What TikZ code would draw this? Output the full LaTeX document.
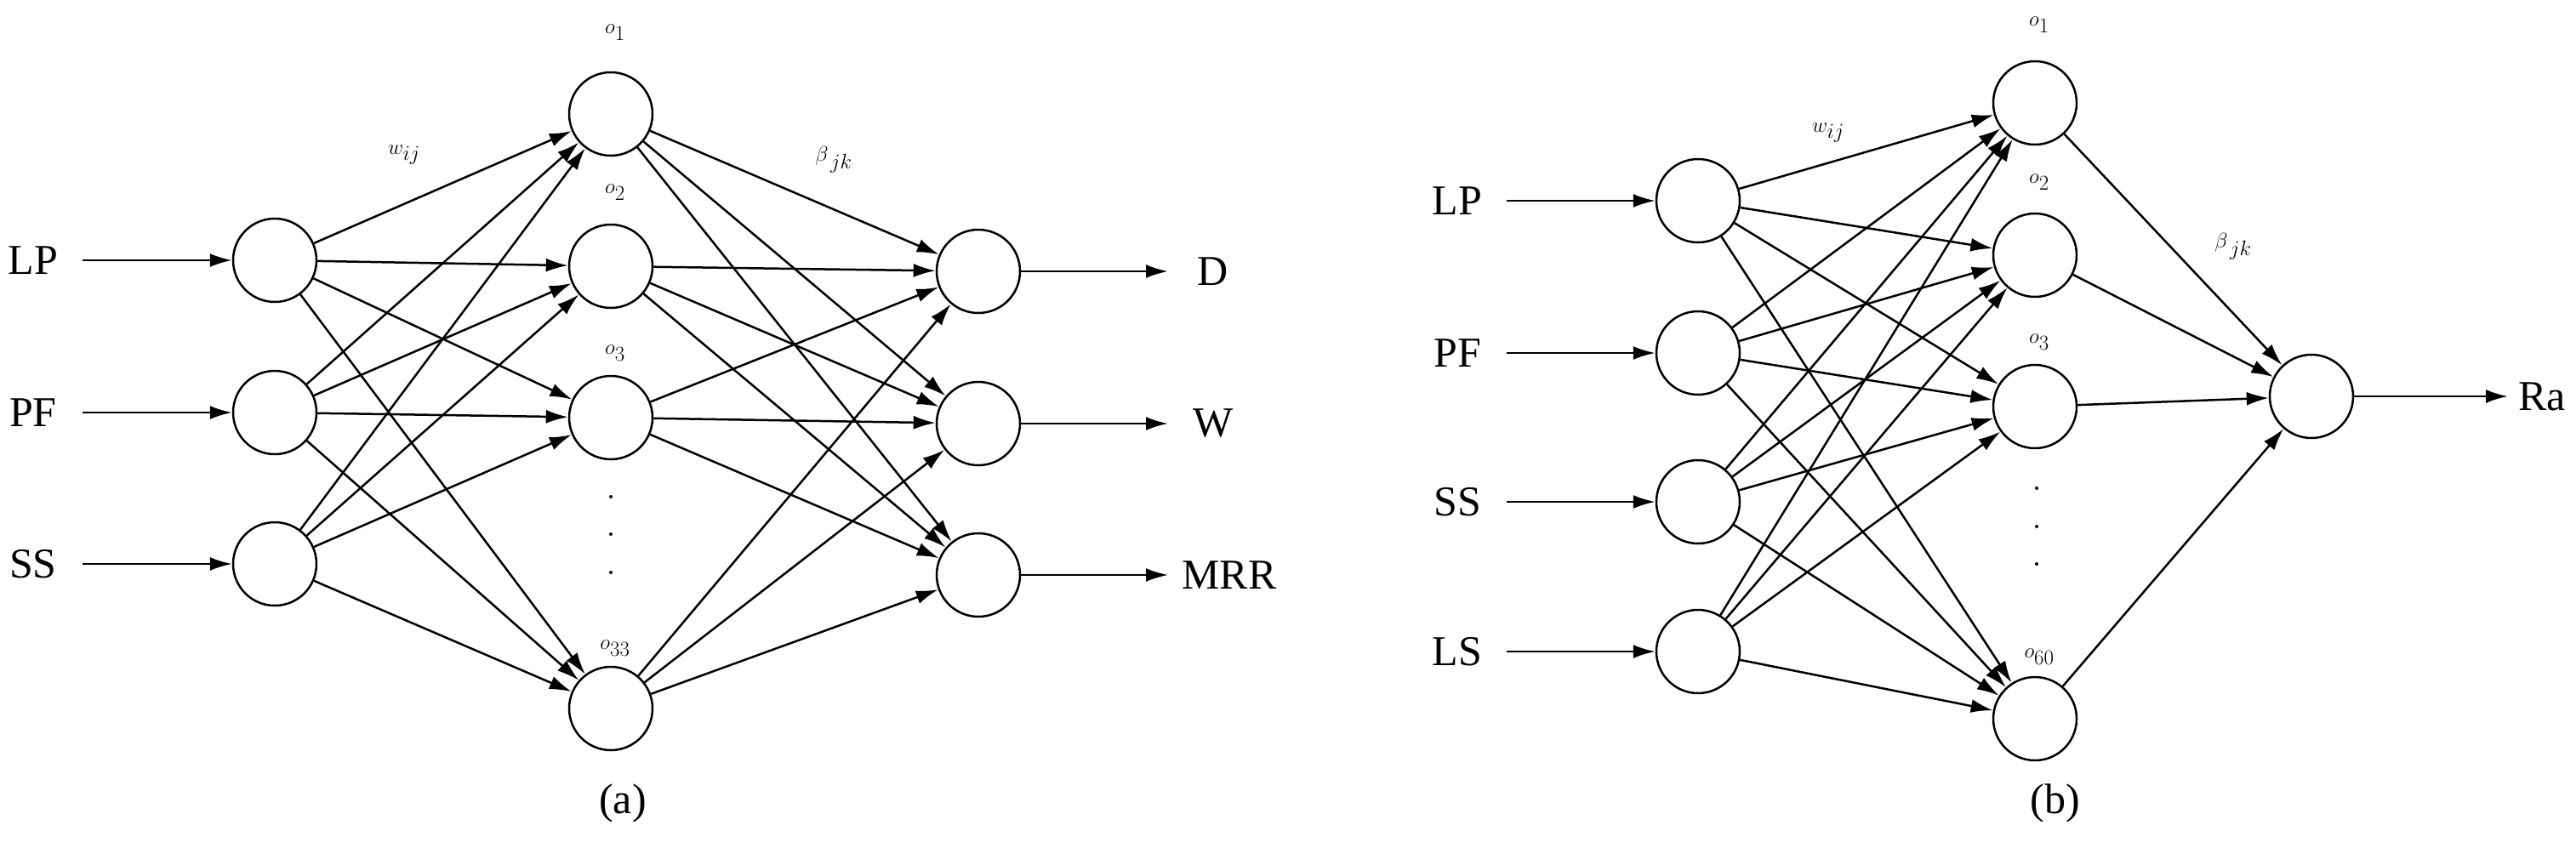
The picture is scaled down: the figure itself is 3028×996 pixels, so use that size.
\documentclass[tikz,border=0pt]{standalone}
\usepackage{fontspec}
\setmainfont{Liberation Serif}
\usetikzlibrary{arrows.meta}
\begin{document}
\begin{tikzpicture}[x=1pt,y=-1pt,
  neu/.style={circle,draw,line width=2.5pt,minimum size=98pt,inner sep=0pt},
  txt/.style={font=\fontsize{50}{56}\selectfont,inner sep=0pt},
  lab/.style={font=\fontsize{46}{52}\selectfont,inner sep=0pt},
  edge/.style={line width=2.5pt,-{Latex[length=26pt,width=16pt]}},
  dot/.style={circle,fill,inner sep=0pt,minimum size=4pt}]
\useasboundingbox (0,0) rectangle (3028,996);
% ---------- (a)
\foreach \n/\y/\t in {1/306/LP,2/485/PF,3/663/SS}{
  \node[neu] (ai\n) at (323,\y) {};
  \node[txt] (al\n) at (39,\y) {\t};
  \coordinate (as\n) at (97,\y);
  \draw[edge] (as\n) -- (ai\n);
}
\foreach \n/\y in {1/134,2/313,3/491,4/833}{\node[neu] (ah\n) at (718,\y) {};}
\node[lab] at (723,38) {$o_1$};
\node[lab] at (723,226) {$o_2$};
\node[lab] at (723,415) {$o_3$};
\node[lab] at (723,762) {$o_{33}$};
\foreach \n/\y/\t/\lx in {1/319/D/1426,2/498/W/1426,3/676/MRR/1445}{
  \node[neu] (ao\n) at (1150,\y) {};
  \node[txt] (at\n) at (\lx,\y) {\t};
  \coordinate (ae\n) at (1373,\y);
  \draw[edge] (ao\n) -- (ae\n);
}
\foreach \i in {1,2,3}{\foreach \h in {1,2,3,4}{\draw[edge] (ai\i) -- (ah\h);}}
\foreach \h in {1,2,3,4}{\foreach \o in {1,2,3}{\draw[edge] (ah\h) -- (ao\o);}}
\node[dot] at (718,584) {};
\node[dot] at (718,628) {};
\node[dot] at (718,673) {};
\node[lab] at (475,182) {$w_{ij}$};
\node[lab] at (980,188) {$\beta_{\,jk}$};
\node[txt] at (732,944) {(a)};
% ---------- (b)
\foreach \n/\y/\t in {1/236/LP,2/415/PF,3/590/SS,4/766/LS}{
  \node[neu] (bi\n) at (1996,\y) {};
  \node[txt] (bl\n) at (1713,\y) {\t};
  \coordinate (bs\n) at (1771,\y);
  \draw[edge] (bs\n) -- (bi\n);
}
\foreach \n/\y in {1/121,2/300,3/478,4/845}{\node[neu] (bh\n) at (2392,\y) {};}
\node[lab] at (2397,29) {$o_1$};
\node[lab] at (2397,214) {$o_2$};
\node[lab] at (2397,402) {$o_3$};
\node[lab] at (2397,772) {$o_{60}$};
\node[neu] (bo) at (2717,466) {};
\coordinate (be) at (2948,466);
\node[txt,anchor=west] (bt) at (2960,466) {Ra};
\draw[edge] (bo) -- (be);
\foreach \i in {1,2,3,4}{\foreach \h in {1,2,3,4}{\draw[edge] (bi\i) -- (bh\h);}}
\foreach \h in {1,2,3,4}{\draw[edge] (bh\h) -- (bo);}
\node[dot] at (2394,574) {};
\node[dot] at (2394,619) {};
\node[dot] at (2394,663) {};
\node[lab] at (2149,156) {$w_{ij}$};
\node[lab] at (2625,290) {$\beta_{\,jk}$};
\node[txt] at (2416,944) {(b)};
\end{tikzpicture}
\end{document}
